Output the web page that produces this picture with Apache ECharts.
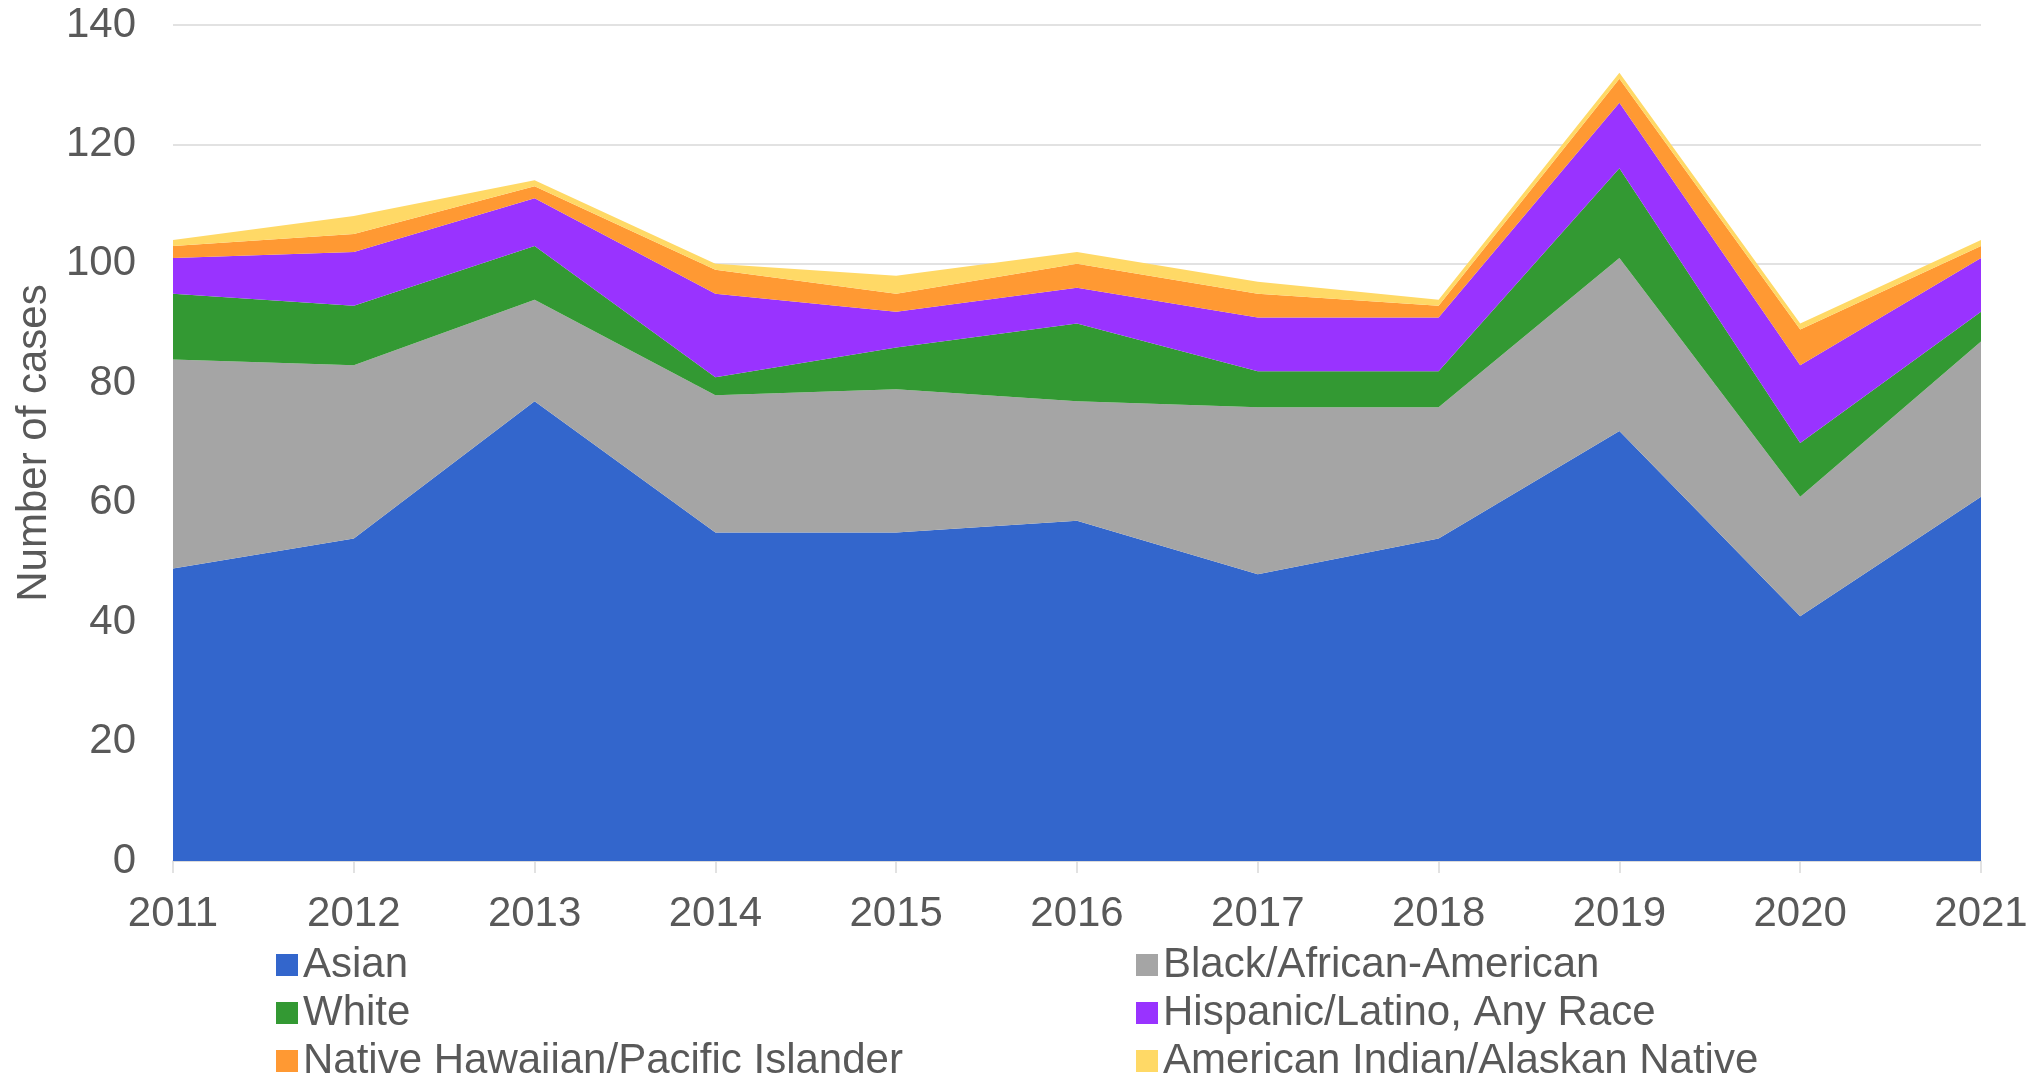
<!DOCTYPE html>
<html>
<head>
<meta charset="utf-8">
<script src="https://cdn.jsdelivr.net/npm/echarts@6/dist/echarts.min.js"></script>
<style>
  html, body { margin: 0; padding: 0; background: #fff; }
  #chart { width: 2043px; height: 1075px; }
</style>
</head>
<body>
<div id="chart"></div>
<script>
// years on the x axis
var years = ['2011', '2012', '2013', '2014', '2015', '2016', '2017', '2018', '2019', '2020', '2021']
// cases per group (stacked)
var asian    = [49, 54, 77, 55, 55, 57, 48, 54, 72, 41, 61]
var black    = [35, 29, 17, 23, 24, 20, 28, 22, 29, 20, 26]
var white    = [11, 10, 9, 3, 7, 13, 6, 6, 15, 9, 5]
var hispanic = [6, 9, 8, 14, 6, 6, 9, 9, 11, 13, 9]
var nhpi     = [2, 3, 2, 4, 3, 4, 4, 2, 4, 6, 2]
var aian     = [1, 3, 1, 1, 3, 2, 2, 1, 1, 1, 1]

var names  = ['Asian', 'Black/African-American', 'White', 'Hispanic/Latino, Any Race',
              'Native Hawaiian/Pacific Islander', 'American Indian/Alaskan Native']
var colors = ['#3366CC', '#A5A5A5', '#339933', '#9933FF', '#FF9933', '#FFD966']
var values = [asian, black, white, hispanic, nhpi, aian]

var font = 'Liberation Sans, Arial, sans-serif'
var textColor = '#595959'
var lineColor = '#D9D9D9'

var chart = echarts.init(document.getElementById('chart'))

// one legend per column, so the two columns line up like the original
function legendCol(left, data) {
  return {
    orient: 'vertical',
    left: left,
    top: 939,
    height: 200,
    itemWidth: 22,
    itemHeight: 22,
    itemGap: 6,
    icon: 'rect',
    selectedMode: false,
    data: data,
    textStyle: {fontFamily: font, fontSize: 42, color: textColor, lineHeight: 42}
  }
}

chart.setOption({
  animation: false,
  color: colors,
  grid: {left: 173, right: 62, top: 25, bottom: 214},
  legend: [
    legendCol(271, [names[0], names[2], names[4]]),
    legendCol(1131, [names[1], names[3], names[5]])
  ],
  xAxis: {
    type: 'category',
    boundaryGap: false,
    data: years,
    axisLine: {lineStyle: {color: lineColor, width: 1.5}},
    axisTick: {length: 12, lineStyle: {color: lineColor, width: 1.5}},
    axisLabel: {fontFamily: font, fontSize: 42, color: textColor, margin: 32}
  },
  yAxis: {
    type: 'value',
    min: 0,
    max: 140,
    interval: 20,
    name: 'Number of cases',
    nameLocation: 'middle',
    nameGap: 117,
    nameTextStyle: {fontFamily: font, fontSize: 42, color: textColor},
    axisLine: {show: false},
    axisTick: {show: false},
    splitLine: {lineStyle: {color: lineColor, width: 1.5}},
    axisLabel: {fontFamily: font, fontSize: 42, color: textColor, margin: 37}
  },
  series: names.map(function(n, i) {
    return {
      name: n,
      type: 'line',
      stack: 'total',
      data: values[i],
      showSymbol: false,
      lineStyle: {width: 0},
      areaStyle: {color: colors[i], opacity: 1}
    }
  })
})
</script>
</body>
</html>
